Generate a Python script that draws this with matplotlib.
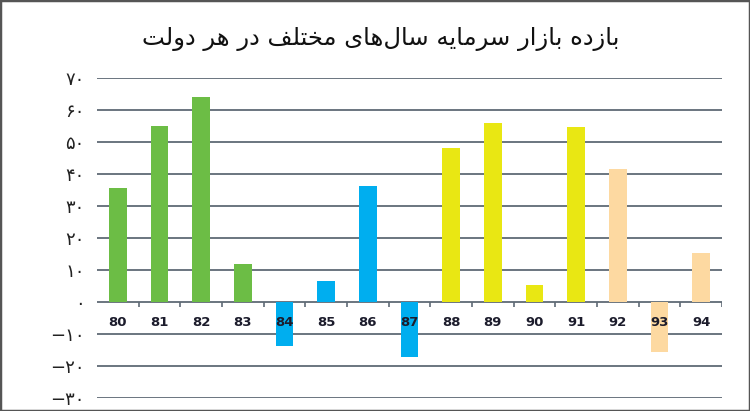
import matplotlib
matplotlib.use("Agg")
import matplotlib.pyplot as plt
from matplotlib.patches import Rectangle

TITLE = "بازده بازار سرمایه سال‌های مختلف در هر دولت"
years = ["80", "81", "82", "83", "84", "85", "86", "87",
         "88", "89", "90", "91", "92", "93", "94"]
returns = [35.5, 55, 64.2, 12, -13.6, 6.7, 36.2, -17.1,
           48.2, 56, 5.3, 54.7, 41.6, -15.7, 15.4]
bar_colors = ["#6cbd45"] * 4 + ["#00aeef"] * 4 + ["#e9e713"] * 4 + ["#fdd9a1"] * 3
y_ticks = [-30, -20, -10, 0, 10, 20, 30, 40, 50, 60, 70]

# contextual forms: isolated, final, initial, medial
FORMS = {
    "ا": ("\uFE8D", "\uFE8E", None, None),
    "ب": ("\uFE8F", "\uFE90", "\uFE91", "\uFE92"),
    "ت": ("\uFE95", "\uFE96", "\uFE97", "\uFE98"),
    "خ": ("\uFEA5", "\uFEA6", "\uFEA7", "\uFEA8"),
    "د": ("\uFEA9", "\uFEAA", None, None),
    "ر": ("\uFEAD", "\uFEAE", None, None),
    "ز": ("\uFEAF", "\uFEB0", None, None),
    "س": ("\uFEB1", "\uFEB2", "\uFEB3", "\uFEB4"),
    "ف": ("\uFED1", "\uFED2", "\uFED3", "\uFED4"),
    "ل": ("\uFEDD", "\uFEDE", "\uFEDF", "\uFEE0"),
    "م": ("\uFEE1", "\uFEE2", "\uFEE3", "\uFEE4"),
    "ه": ("\uFEE9", "\uFEEA", "\uFEEB", "\uFEEC"),
    "و": ("\uFEED", "\uFEEE", None, None),
    "ی": ("\uFBFC", "\uFBFD", "\uFBFE", "\uFBFF"),
}


def shape(text):
    out = []
    for i, c in enumerate(text):
        if c not in FORMS:
            if c != "\u200c":
                out.append(c)
            continue
        prev = text[i - 1] if i > 0 else ""
        nxt = text[i + 1] if i + 1 < len(text) else ""
        join_prev = prev in FORMS and FORMS[prev][2] is not None
        join_next = FORMS[c][2] is not None and nxt in FORMS
        if join_prev and join_next:
            out.append(FORMS[c][3])
        elif join_prev:
            out.append(FORMS[c][1])
        elif join_next:
            out.append(FORMS[c][2])
        else:
            out.append(FORMS[c][0])
    return "".join(reversed(out))


def fa_digits(v):
    s = str(abs(v)).translate(str.maketrans("0123456789", "۰۱۲۳۴۵۶۷۸۹"))
    return ("\u2212" + s) if v < 0 else s


fig = plt.figure(figsize=(7.5, 4.11), dpi=100)
ax = fig.add_axes([97 / 750, 1 - 398 / 411, 625 / 750, 320 / 411])

x = list(range(len(years)))
ax.bar(x, returns, width=0.43, color=bar_colors, zorder=3)

for v in y_ticks:
    ax.axhline(v, color="#5f6a75", lw=1.3, zorder=1)

# small ticks hanging under the zero line between categories
ax.vlines([i + 0.5 for i in x], 0, -1.6, color="#5f6a75", lw=1.2, zorder=2)

for i, lab in enumerate(years):
    ax.text(i, -6.3, lab, ha="center", va="center", fontsize=9.5,
            fontweight="bold", color="#1c1c2c", zorder=4)

ax.set_xlim(-0.5, len(years) - 0.5)
ax.set_ylim(-30, 70)
ax.set_xticks([])
ax.set_yticks(y_ticks)
ax.set_yticklabels([fa_digits(v) for v in y_ticks], fontsize=13, color="#222222")
ax.tick_params(axis="y", length=0, pad=9)
for s in ax.spines.values():
    s.set_visible(False)

fig.text(0.507, 0.905, shape(TITLE), ha="center", va="center",
         fontsize=17.5, color="#111111")

fig.add_artist(Rectangle((0, 0), 1, 1, transform=fig.transFigure, fill=False,
                         edgecolor="#555555", lw=2.5))

fig.savefig("out.png", dpi=100)
